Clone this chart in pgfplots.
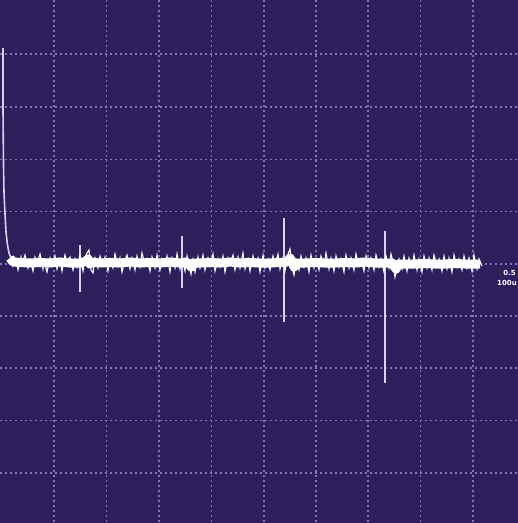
\documentclass[border=0pt]{standalone}
\usepackage{pgfplots}
\pgfplotsset{compat=1.18}
\usepackage{fontspec}
\setmainfont{DejaVu Sans}
\definecolor{scopebg}{RGB}{44,31,92}
\definecolor{gridc}{RGB}{128,118,188}
\definecolor{spikec}{RGB}{215,208,240}
\begin{document}
\begin{tikzpicture}
\begin{axis}[
  at={(0,0)}, anchor=south west,
  width=518pt, height=523pt, scale only axis,
  xmin=0, xmax=518, ymin=0, ymax=523, y dir=reverse,
  axis background/.style={fill=scopebg},
  axis line style={draw=none},
  xtick={54,106.5,159,211.5,264,316,368,420.5,473},
  ytick={54,107,159.5,211.5,264,316,368,420.5,473},
  xticklabels={}, yticklabels={},
  major tick length=0pt,
  grid=major,
  major grid style={gridc, line width=1.5pt, dash pattern=on 1.6pt off 3.4pt},
  clip=false,
]
% decay at start
\addplot[spikec, line width=1.6pt] coordinates {
(3,48)(3,110)(3.5,165)(4,192)(5,214)(6,232)(7.5,245)(9,253)(11,258)(14,261)};
% spikes
\addplot[spikec, line width=1.2pt] coordinates {(80,245)(80,292)};
\addplot[spikec, line width=1.2pt] coordinates {(182,236)(182,288)};
\addplot[spikec, line width=1.2pt] coordinates {(284,218)(284,322)};
\addplot[spikec, line width=1.2pt] coordinates {(385,231)(385,383)};
% thick base of trace
\addplot[white, line width=9pt, line join=round] coordinates {
(10,258)(13,262)(20,262.5)(30,263)(40,262.5)(50,263)(60,262)(70,263)(80,263)(86,261)(88,259)(90,264)(92,262)(100,263)(110,262.5)(120,263)(130,262)(140,263)(150,262.5)(160,263)(170,262)(180,263)(186,262)(189,264)(191,267)(193,263)(200,263)(210,262.5)(220,263)(230,262)(240,263)(250,262.5)(260,263)(270,263)(280,262.5)(287,262)(290,258)(292,262)(294,267)(296,263)(305,263)(315,262.5)(325,263)(335,263)(345,262.5)(355,263)(365,262)(375,263)(385,263)(392,263)(394,266)(396,269)(398,264)(405,264)(415,264)(425,263.5)(435,264)(445,264)(455,263.5)(465,264)(475,264)(480,264)};
% fine noise of trace
\addplot[white, line width=1.1pt] coordinates {
(11,256)(13,266)(16,259)(18,270)(21,257)(22,264)(25,255)(28,268)(30,260)(33,271)
(35,257)(37,263)(40,254)(43,269)(44,261)(47,272)(50,258)(52,266)(55,256)(57,269)
(60,259)(62,271)(65,255)(67,262)(70,257)(73,270)(75,259)(77,267)(80,255)(83,271)
(85,258)(87,253)(89,250)(91,270)(93,273)(95,258)(98,268)(100,256)(103,264)(105,257)
(108,271)(110,259)(113,268)(115,254)(118,266)(120,258)(122,272)(125,260)(127,255)(130,269)
(132,258)(135,270)(137,256)(140,267)(142,253)(145,265)(147,259)(150,271)(152,257)(155,268)
(157,255)(160,270)(162,259)(165,266)(167,256)(170,272)(172,258)(175,268)(177,254)(180,269)
(182,259)(185,271)(187,256)(189,265)(191,274)(193,260)(195,272)(198,257)(200,268)(203,255)
(205,270)(208,258)(210,266)(213,254)(215,271)(218,259)(220,267)(223,256)(225,272)(228,258)
(230,264)(233,255)(235,270)(238,257)(240,268)(243,253)(245,269)(248,259)(250,271)(253,256)
(255,266)(258,258)(260,272)(263,255)(265,268)(268,259)(270,270)(273,256)(275,265)(278,254)
(280,269)(283,258)(285,271)(288,254)(290,249)(292,268)(294,275)(296,260)(299,270)(301,256)
(304,267)(306,258)(309,272)(311,255)(314,268)(316,259)(319,270)(321,256)(324,266)(326,253)
(329,269)(331,258)(334,271)(336,256)(339,267)(341,259)(344,272)(346,255)(349,268)(351,258)
(354,270)(356,254)(359,266)(361,259)(364,271)(366,256)(369,268)(371,258)(374,270)(376,255)
(379,267)(381,259)(384,272)(386,256)(389,268)(391,254)(393,262)(395,277)(397,270)(399,259)
(402,269)(404,256)(407,271)(409,258)(412,267)(414,255)(417,270)(419,259)(422,272)(424,256)
(427,268)(429,258)(432,270)(434,255)(437,266)(439,259)(442,271)(444,256)(447,269)(449,258)
(452,272)(454,255)(457,267)(459,259)(462,270)(464,256)(467,268)(469,258)(472,271)(474,255)
(477,269)(479,259)(482,266)};
\node[anchor=east, text=white, font=\bfseries\fontsize{7}{8}\selectfont, inner sep=0pt] at (axis cs:516,273) {0.5};
\node[anchor=east, text=white, font=\bfseries\fontsize{7}{8}\selectfont, inner sep=0pt] at (axis cs:517,283) {100u};
\end{axis}
\pgfresetboundingbox
\path[use as bounding box] (0,0) rectangle (518pt,523pt);
\end{tikzpicture}
\end{document}
